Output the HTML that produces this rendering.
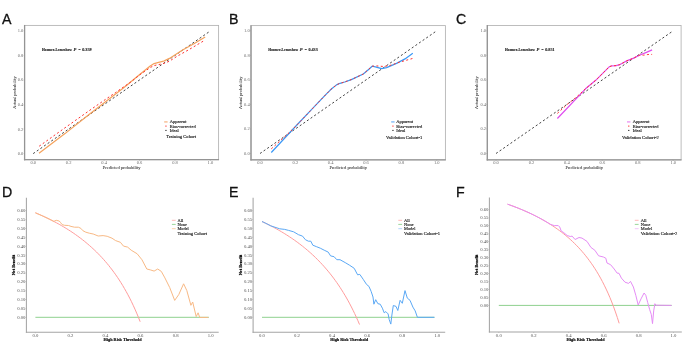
<!DOCTYPE html>
<html><head><meta charset="utf-8"><title>Calibration and decision curves</title>
<style>html,body{margin:0;padding:0;background:#fff;width:685px;height:354px;overflow:hidden}svg{display:block;will-change:transform}</style>
</head><body>
<svg width="685" height="354" viewBox="0 0 685 354">
<rect width="685" height="354" fill="#fff"/>
<rect x="24.6" y="25.4" width="194" height="134.3" fill="none" stroke="#b2b2b2" stroke-width="0.85"/>
<line x1="24.6" y1="24.95" x2="24.6" y2="160.35" stroke="#949494" stroke-width="1.3"/>
<line x1="23.95" y1="159.7" x2="219.05" y2="159.7" stroke="#949494" stroke-width="1.3"/>
<line x1="33.2" y1="159.7" x2="33.2" y2="160.7" stroke="#949494" stroke-width="0.5"/>
<line x1="23.6" y1="153.6" x2="24.6" y2="153.6" stroke="#949494" stroke-width="0.5"/>
<text x="33.2" y="162.7" font-family='"Liberation Serif", serif' font-size="4.5" font-weight="normal" fill="#6a6a6a" text-anchor="middle" dominant-baseline="central">0.0</text>
<text x="23.3" y="153.6" font-family='"Liberation Serif", serif' font-size="4.5" font-weight="normal" fill="#6a6a6a" text-anchor="end" dominant-baseline="central">0.0</text>
<line x1="68.64" y1="159.7" x2="68.64" y2="160.7" stroke="#949494" stroke-width="0.5"/>
<line x1="23.6" y1="129.06" x2="24.6" y2="129.06" stroke="#949494" stroke-width="0.5"/>
<text x="68.64" y="162.7" font-family='"Liberation Serif", serif' font-size="4.5" font-weight="normal" fill="#6a6a6a" text-anchor="middle" dominant-baseline="central">0.2</text>
<text x="23.3" y="129.06" font-family='"Liberation Serif", serif' font-size="4.5" font-weight="normal" fill="#6a6a6a" text-anchor="end" dominant-baseline="central">0.2</text>
<line x1="104.08" y1="159.7" x2="104.08" y2="160.7" stroke="#949494" stroke-width="0.5"/>
<line x1="23.6" y1="104.52" x2="24.6" y2="104.52" stroke="#949494" stroke-width="0.5"/>
<text x="104.08" y="162.7" font-family='"Liberation Serif", serif' font-size="4.5" font-weight="normal" fill="#6a6a6a" text-anchor="middle" dominant-baseline="central">0.4</text>
<text x="23.3" y="104.52" font-family='"Liberation Serif", serif' font-size="4.5" font-weight="normal" fill="#6a6a6a" text-anchor="end" dominant-baseline="central">0.4</text>
<line x1="139.52" y1="159.7" x2="139.52" y2="160.7" stroke="#949494" stroke-width="0.5"/>
<line x1="23.6" y1="79.98" x2="24.6" y2="79.98" stroke="#949494" stroke-width="0.5"/>
<text x="139.52" y="162.7" font-family='"Liberation Serif", serif' font-size="4.5" font-weight="normal" fill="#6a6a6a" text-anchor="middle" dominant-baseline="central">0.6</text>
<text x="23.3" y="79.98" font-family='"Liberation Serif", serif' font-size="4.5" font-weight="normal" fill="#6a6a6a" text-anchor="end" dominant-baseline="central">0.6</text>
<line x1="174.96" y1="159.7" x2="174.96" y2="160.7" stroke="#949494" stroke-width="0.5"/>
<line x1="23.6" y1="55.44" x2="24.6" y2="55.44" stroke="#949494" stroke-width="0.5"/>
<text x="174.96" y="162.7" font-family='"Liberation Serif", serif' font-size="4.5" font-weight="normal" fill="#6a6a6a" text-anchor="middle" dominant-baseline="central">0.8</text>
<text x="23.3" y="55.44" font-family='"Liberation Serif", serif' font-size="4.5" font-weight="normal" fill="#6a6a6a" text-anchor="end" dominant-baseline="central">0.8</text>
<line x1="210.4" y1="159.7" x2="210.4" y2="160.7" stroke="#949494" stroke-width="0.5"/>
<line x1="23.6" y1="30.9" x2="24.6" y2="30.9" stroke="#949494" stroke-width="0.5"/>
<text x="210.4" y="162.7" font-family='"Liberation Serif", serif' font-size="4.5" font-weight="normal" fill="#6a6a6a" text-anchor="middle" dominant-baseline="central">1.0</text>
<text x="23.3" y="30.9" font-family='"Liberation Serif", serif' font-size="4.5" font-weight="normal" fill="#6a6a6a" text-anchor="end" dominant-baseline="central">1.0</text>
<text x="121.6" y="167.3" font-family='"Liberation Serif", serif' font-size="4.6" font-weight="normal" fill="#2a2a2a" stroke="#2a2a2a" stroke-width="0.05" text-anchor="middle" dominant-baseline="central" textLength="37.6" lengthAdjust="spacingAndGlyphs">Predicted probability</text>
<text x="14.3" y="92.55" font-family='"Liberation Serif", serif' font-size="4.6" font-weight="normal" fill="#2a2a2a" stroke="#2a2a2a" stroke-width="0.05" text-anchor="middle" dominant-baseline="central" textLength="32.6" lengthAdjust="spacingAndGlyphs" transform="rotate(-90 14.3 92.55)">Actual probability</text>
<text x="42" y="49.5" font-family='"Liberation Serif", serif' font-size="4.6" font-weight="bold" fill="#111" stroke="#111" stroke-width="0.1" text-anchor="start" dominant-baseline="central" textLength="30" lengthAdjust="spacingAndGlyphs">Hosmer-Lemeshow</text>
<text x="73.5" y="49.5" font-family='"Liberation Serif", serif' font-size="4.6" font-weight="bold" font-style="italic" fill="#111" stroke="#111" stroke-width="0.1" text-anchor="start" dominant-baseline="central">P</text>
<text x="78.3" y="49.5" font-family='"Liberation Serif", serif' font-size="4.4" font-weight="bold" fill="#111" text-anchor="start" dominant-baseline="central">=</text>
<text x="82.2" y="49.5" font-family='"Liberation Serif", serif' font-size="4.5" font-weight="bold" fill="#111" stroke="#111" stroke-width="0.1" text-anchor="start" dominant-baseline="central" textLength="9.4" lengthAdjust="spacingAndGlyphs">0.359</text>
<path d="M33.2 153.6 L210.4 30.9" fill="none" stroke="#3a3a3a" stroke-width="0.95" stroke-dasharray="2.1 2.3" stroke-linejoin="round"/>
<path d="M39 153.2 L65 133.6 L90 113.8 L124 87.5 L140 74.2 L145.6 69.7 L150.2 66 L154.1 63.6 L158.6 62.3 L163.7 61.1 L169.4 58.4 L182.6 50 L193.9 43.8 L205.2 37" fill="none" stroke="#f5a25c" stroke-width="1.2" stroke-linejoin="round"/>
<path d="M39.2 146.2 L65 127.8 L90 110.1 L115.4 92.6 L130.7 82.1 L140 74.6 L146.8 70 L149.9 67.7 L153.8 65.7 L158.1 64.6 L162 64 L166 62.6 L169.4 61.2 L177 56.3 L188.3 50 L203.5 41" fill="none" stroke="#ff3030" stroke-width="1.0" stroke-dasharray="2 2.4" stroke-linejoin="round"/>
<line x1="164.2" y1="121.9" x2="167.6" y2="121.9" stroke="#f7c096" stroke-width="1.5"/>
<line x1="165.3" y1="126.1" x2="166.6" y2="126.1" stroke="#ff2a2a" stroke-width="1.0"/>
<line x1="165.3" y1="130.4" x2="166.6" y2="130.4" stroke="#222" stroke-width="1.0"/>
<text x="169.8" y="121.9" font-family='"Liberation Serif", serif' font-size="4.9" font-weight="normal" fill="#111" stroke="#111" stroke-width="0.12" text-anchor="start" dominant-baseline="central" textLength="16.8" lengthAdjust="spacingAndGlyphs">Apparent</text>
<text x="169.8" y="126.1" font-family='"Liberation Serif", serif' font-size="4.9" font-weight="normal" fill="#111" stroke="#111" stroke-width="0.12" text-anchor="start" dominant-baseline="central" textLength="25.8" lengthAdjust="spacingAndGlyphs">Bias-corrected</text>
<text x="169.8" y="130.4" font-family='"Liberation Serif", serif' font-size="4.9" font-weight="normal" fill="#111" stroke="#111" stroke-width="0.12" text-anchor="start" dominant-baseline="central" textLength="9" lengthAdjust="spacingAndGlyphs">Ideal</text>
<text x="166.3" y="136.8" font-family='"Liberation Serif", serif' font-size="4.9" font-weight="normal" fill="#111" stroke="#111" stroke-width="0.12" text-anchor="start" dominant-baseline="central" textLength="29.8" lengthAdjust="spacingAndGlyphs">Training Cohort</text>
<rect x="251" y="25.6" width="194.4" height="134.2" fill="none" stroke="#b2b2b2" stroke-width="0.85"/>
<line x1="251" y1="25.15" x2="251" y2="160.45" stroke="#949494" stroke-width="1.3"/>
<line x1="250.35" y1="159.8" x2="445.85" y2="159.8" stroke="#949494" stroke-width="1.3"/>
<line x1="260" y1="159.8" x2="260" y2="160.8" stroke="#949494" stroke-width="0.5"/>
<line x1="250" y1="153.5" x2="251" y2="153.5" stroke="#949494" stroke-width="0.5"/>
<text x="260" y="162.7" font-family='"Liberation Serif", serif' font-size="4.5" font-weight="normal" fill="#6a6a6a" text-anchor="middle" dominant-baseline="central">0.0</text>
<text x="249.7" y="153.5" font-family='"Liberation Serif", serif' font-size="4.5" font-weight="normal" fill="#6a6a6a" text-anchor="end" dominant-baseline="central">0.0</text>
<line x1="295.34" y1="159.8" x2="295.34" y2="160.8" stroke="#949494" stroke-width="0.5"/>
<line x1="250" y1="128.96" x2="251" y2="128.96" stroke="#949494" stroke-width="0.5"/>
<text x="295.34" y="162.7" font-family='"Liberation Serif", serif' font-size="4.5" font-weight="normal" fill="#6a6a6a" text-anchor="middle" dominant-baseline="central">0.2</text>
<text x="249.7" y="128.96" font-family='"Liberation Serif", serif' font-size="4.5" font-weight="normal" fill="#6a6a6a" text-anchor="end" dominant-baseline="central">0.2</text>
<line x1="330.68" y1="159.8" x2="330.68" y2="160.8" stroke="#949494" stroke-width="0.5"/>
<line x1="250" y1="104.42" x2="251" y2="104.42" stroke="#949494" stroke-width="0.5"/>
<text x="330.68" y="162.7" font-family='"Liberation Serif", serif' font-size="4.5" font-weight="normal" fill="#6a6a6a" text-anchor="middle" dominant-baseline="central">0.4</text>
<text x="249.7" y="104.42" font-family='"Liberation Serif", serif' font-size="4.5" font-weight="normal" fill="#6a6a6a" text-anchor="end" dominant-baseline="central">0.4</text>
<line x1="366.02" y1="159.8" x2="366.02" y2="160.8" stroke="#949494" stroke-width="0.5"/>
<line x1="250" y1="79.88" x2="251" y2="79.88" stroke="#949494" stroke-width="0.5"/>
<text x="366.02" y="162.7" font-family='"Liberation Serif", serif' font-size="4.5" font-weight="normal" fill="#6a6a6a" text-anchor="middle" dominant-baseline="central">0.6</text>
<text x="249.7" y="79.88" font-family='"Liberation Serif", serif' font-size="4.5" font-weight="normal" fill="#6a6a6a" text-anchor="end" dominant-baseline="central">0.6</text>
<line x1="401.36" y1="159.8" x2="401.36" y2="160.8" stroke="#949494" stroke-width="0.5"/>
<line x1="250" y1="55.34" x2="251" y2="55.34" stroke="#949494" stroke-width="0.5"/>
<text x="401.36" y="162.7" font-family='"Liberation Serif", serif' font-size="4.5" font-weight="normal" fill="#6a6a6a" text-anchor="middle" dominant-baseline="central">0.8</text>
<text x="249.7" y="55.34" font-family='"Liberation Serif", serif' font-size="4.5" font-weight="normal" fill="#6a6a6a" text-anchor="end" dominant-baseline="central">0.8</text>
<line x1="436.7" y1="159.8" x2="436.7" y2="160.8" stroke="#949494" stroke-width="0.5"/>
<line x1="250" y1="30.8" x2="251" y2="30.8" stroke="#949494" stroke-width="0.5"/>
<text x="436.7" y="162.7" font-family='"Liberation Serif", serif' font-size="4.5" font-weight="normal" fill="#6a6a6a" text-anchor="middle" dominant-baseline="central">1.0</text>
<text x="249.7" y="30.8" font-family='"Liberation Serif", serif' font-size="4.5" font-weight="normal" fill="#6a6a6a" text-anchor="end" dominant-baseline="central">1.0</text>
<text x="348.2" y="167.3" font-family='"Liberation Serif", serif' font-size="4.6" font-weight="normal" fill="#2a2a2a" stroke="#2a2a2a" stroke-width="0.05" text-anchor="middle" dominant-baseline="central" textLength="37.6" lengthAdjust="spacingAndGlyphs">Predicted probability</text>
<text x="240.7" y="92.7" font-family='"Liberation Serif", serif' font-size="4.6" font-weight="normal" fill="#2a2a2a" stroke="#2a2a2a" stroke-width="0.05" text-anchor="middle" dominant-baseline="central" textLength="32.6" lengthAdjust="spacingAndGlyphs" transform="rotate(-90 240.7 92.7)">Actual probability</text>
<text x="268.2" y="49.5" font-family='"Liberation Serif", serif' font-size="4.6" font-weight="bold" fill="#111" stroke="#111" stroke-width="0.1" text-anchor="start" dominant-baseline="central" textLength="30" lengthAdjust="spacingAndGlyphs">Hosmer-Lemeshow</text>
<text x="299.7" y="49.5" font-family='"Liberation Serif", serif' font-size="4.6" font-weight="bold" font-style="italic" fill="#111" stroke="#111" stroke-width="0.1" text-anchor="start" dominant-baseline="central">P</text>
<text x="304.5" y="49.5" font-family='"Liberation Serif", serif' font-size="4.4" font-weight="bold" fill="#111" text-anchor="start" dominant-baseline="central">=</text>
<text x="308.4" y="49.5" font-family='"Liberation Serif", serif' font-size="4.5" font-weight="bold" fill="#111" stroke="#111" stroke-width="0.1" text-anchor="start" dominant-baseline="central" textLength="9.4" lengthAdjust="spacingAndGlyphs">0.433</text>
<path d="M260 153.5 L436.7 30.8" fill="none" stroke="#3a3a3a" stroke-width="0.95" stroke-dasharray="2.1 2.3" stroke-linejoin="round"/>
<path d="M271.3 152.5 L295 127 L310.5 110.7 L326 94.4 L330 90.3 L332.3 88.2 L335 86.1 L337 84.6 L340 83.3 L344.7 82 L351.3 79.6 L363.3 74 L368.3 69.7 L372.2 66.2 L375.3 66.9 L381.7 68.7 L386.6 67.6 L396.5 63.4 L405 58.9 L412.8 53.3" fill="none" stroke="#3a98f6" stroke-width="1.2" stroke-linejoin="round"/>
<path d="M271.3 148.8 L286.2 135.4 L295 127 L310.5 110.7 L326 94.4 L330 90.3 L332.3 88.2 L335 86.1 L337 84.6 L340 83.3 L344.7 82 L351.3 79.6 L363.3 74 L368.3 69.7 L372.2 66.2 L376.7 65.9 L383.8 66.5 L390.9 65.2 L399.4 62.2 L412.8 58.4" fill="none" stroke="#ff3030" stroke-width="1.0" stroke-dasharray="2 2.4" stroke-linejoin="round"/>
<line x1="391.2" y1="121.9" x2="394.6" y2="121.9" stroke="#8cc0f7" stroke-width="1.5"/>
<line x1="392.3" y1="126.1" x2="393.6" y2="126.1" stroke="#ff2a2a" stroke-width="1.0"/>
<line x1="392.3" y1="130.4" x2="393.6" y2="130.4" stroke="#222" stroke-width="1.0"/>
<text x="396.3" y="121.9" font-family='"Liberation Serif", serif' font-size="4.9" font-weight="normal" fill="#111" stroke="#111" stroke-width="0.12" text-anchor="start" dominant-baseline="central" textLength="16.8" lengthAdjust="spacingAndGlyphs">Apparent</text>
<text x="396.3" y="126.1" font-family='"Liberation Serif", serif' font-size="4.9" font-weight="normal" fill="#111" stroke="#111" stroke-width="0.12" text-anchor="start" dominant-baseline="central" textLength="25.8" lengthAdjust="spacingAndGlyphs">Bias-corrected</text>
<text x="396.3" y="130.4" font-family='"Liberation Serif", serif' font-size="4.9" font-weight="normal" fill="#111" stroke="#111" stroke-width="0.12" text-anchor="start" dominant-baseline="central" textLength="9" lengthAdjust="spacingAndGlyphs">Ideal</text>
<text x="386.1" y="137.5" font-family='"Liberation Serif", serif' font-size="4.9" font-weight="normal" fill="#111" stroke="#111" stroke-width="0.12" text-anchor="start" dominant-baseline="central" textLength="36.1" lengthAdjust="spacingAndGlyphs">Validation Cohort-1</text>
<rect x="487.3" y="25.5" width="193.8" height="134.3" fill="none" stroke="#b2b2b2" stroke-width="0.85"/>
<line x1="487.3" y1="25.05" x2="487.3" y2="160.45" stroke="#949494" stroke-width="1.3"/>
<line x1="486.65" y1="159.8" x2="681.55" y2="159.8" stroke="#949494" stroke-width="1.3"/>
<line x1="496" y1="159.8" x2="496" y2="160.8" stroke="#949494" stroke-width="0.5"/>
<line x1="486.3" y1="153.5" x2="487.3" y2="153.5" stroke="#949494" stroke-width="0.5"/>
<text x="496" y="162.7" font-family='"Liberation Serif", serif' font-size="4.5" font-weight="normal" fill="#6a6a6a" text-anchor="middle" dominant-baseline="central">0.0</text>
<text x="486" y="153.5" font-family='"Liberation Serif", serif' font-size="4.5" font-weight="normal" fill="#6a6a6a" text-anchor="end" dominant-baseline="central">0.0</text>
<line x1="531.44" y1="159.8" x2="531.44" y2="160.8" stroke="#949494" stroke-width="0.5"/>
<line x1="486.3" y1="128.96" x2="487.3" y2="128.96" stroke="#949494" stroke-width="0.5"/>
<text x="531.44" y="162.7" font-family='"Liberation Serif", serif' font-size="4.5" font-weight="normal" fill="#6a6a6a" text-anchor="middle" dominant-baseline="central">0.2</text>
<text x="486" y="128.96" font-family='"Liberation Serif", serif' font-size="4.5" font-weight="normal" fill="#6a6a6a" text-anchor="end" dominant-baseline="central">0.2</text>
<line x1="566.88" y1="159.8" x2="566.88" y2="160.8" stroke="#949494" stroke-width="0.5"/>
<line x1="486.3" y1="104.42" x2="487.3" y2="104.42" stroke="#949494" stroke-width="0.5"/>
<text x="566.88" y="162.7" font-family='"Liberation Serif", serif' font-size="4.5" font-weight="normal" fill="#6a6a6a" text-anchor="middle" dominant-baseline="central">0.4</text>
<text x="486" y="104.42" font-family='"Liberation Serif", serif' font-size="4.5" font-weight="normal" fill="#6a6a6a" text-anchor="end" dominant-baseline="central">0.4</text>
<line x1="602.32" y1="159.8" x2="602.32" y2="160.8" stroke="#949494" stroke-width="0.5"/>
<line x1="486.3" y1="79.88" x2="487.3" y2="79.88" stroke="#949494" stroke-width="0.5"/>
<text x="602.32" y="162.7" font-family='"Liberation Serif", serif' font-size="4.5" font-weight="normal" fill="#6a6a6a" text-anchor="middle" dominant-baseline="central">0.6</text>
<text x="486" y="79.88" font-family='"Liberation Serif", serif' font-size="4.5" font-weight="normal" fill="#6a6a6a" text-anchor="end" dominant-baseline="central">0.6</text>
<line x1="637.76" y1="159.8" x2="637.76" y2="160.8" stroke="#949494" stroke-width="0.5"/>
<line x1="486.3" y1="55.34" x2="487.3" y2="55.34" stroke="#949494" stroke-width="0.5"/>
<text x="637.76" y="162.7" font-family='"Liberation Serif", serif' font-size="4.5" font-weight="normal" fill="#6a6a6a" text-anchor="middle" dominant-baseline="central">0.8</text>
<text x="486" y="55.34" font-family='"Liberation Serif", serif' font-size="4.5" font-weight="normal" fill="#6a6a6a" text-anchor="end" dominant-baseline="central">0.8</text>
<line x1="673.2" y1="159.8" x2="673.2" y2="160.8" stroke="#949494" stroke-width="0.5"/>
<line x1="486.3" y1="30.8" x2="487.3" y2="30.8" stroke="#949494" stroke-width="0.5"/>
<text x="673.2" y="162.7" font-family='"Liberation Serif", serif' font-size="4.5" font-weight="normal" fill="#6a6a6a" text-anchor="middle" dominant-baseline="central">1.0</text>
<text x="486" y="30.8" font-family='"Liberation Serif", serif' font-size="4.5" font-weight="normal" fill="#6a6a6a" text-anchor="end" dominant-baseline="central">1.0</text>
<text x="584.2" y="167.3" font-family='"Liberation Serif", serif' font-size="4.6" font-weight="normal" fill="#2a2a2a" stroke="#2a2a2a" stroke-width="0.05" text-anchor="middle" dominant-baseline="central" textLength="37.6" lengthAdjust="spacingAndGlyphs">Predicted probability</text>
<text x="477" y="92.65" font-family='"Liberation Serif", serif' font-size="4.6" font-weight="normal" fill="#2a2a2a" stroke="#2a2a2a" stroke-width="0.05" text-anchor="middle" dominant-baseline="central" textLength="32.6" lengthAdjust="spacingAndGlyphs" transform="rotate(-90 477 92.65)">Actual probability</text>
<text x="505" y="49.5" font-family='"Liberation Serif", serif' font-size="4.6" font-weight="bold" fill="#111" stroke="#111" stroke-width="0.1" text-anchor="start" dominant-baseline="central" textLength="30" lengthAdjust="spacingAndGlyphs">Hosmer-Lemeshow</text>
<text x="536.5" y="49.5" font-family='"Liberation Serif", serif' font-size="4.6" font-weight="bold" font-style="italic" fill="#111" stroke="#111" stroke-width="0.1" text-anchor="start" dominant-baseline="central">P</text>
<text x="541.3" y="49.5" font-family='"Liberation Serif", serif' font-size="4.4" font-weight="bold" fill="#111" text-anchor="start" dominant-baseline="central">=</text>
<text x="545.2" y="49.5" font-family='"Liberation Serif", serif' font-size="4.5" font-weight="bold" fill="#111" stroke="#111" stroke-width="0.1" text-anchor="start" dominant-baseline="central" textLength="9.4" lengthAdjust="spacingAndGlyphs">0.851</text>
<path d="M496 153.5 L673.2 30.8" fill="none" stroke="#3a3a3a" stroke-width="0.95" stroke-dasharray="2.1 2.3" stroke-linejoin="round"/>
<path d="M557.4 118.5 L585.5 88.8 L595.7 80.3 L609.2 66.8 L612 65.8 L616.1 65.6 L619.6 64.7 L626.7 60.9 L633.7 58.1 L639.4 55.2 L646.4 52.4 L652.1 49.9" fill="none" stroke="#e04cf0" stroke-width="1.2" stroke-linejoin="round"/>
<path d="M557.4 113.4 L567 104.5 L576 97.5 L585.5 88.8 L595.7 80.3 L609.2 66.8 L612 65.8 L616.1 65.6 L619.6 64.7 L626.7 60.9 L633.7 58.1 L639.4 55.2 L643.6 55.2 L647.9 54.5 L652.1 54.4" fill="none" stroke="#ff3030" stroke-width="1.0" stroke-dasharray="2 2.4" stroke-linejoin="round"/>
<line x1="627" y1="121.9" x2="630.4" y2="121.9" stroke="#eea0f5" stroke-width="1.5"/>
<line x1="628.1" y1="126.1" x2="629.4" y2="126.1" stroke="#ff2a2a" stroke-width="1.0"/>
<line x1="628.1" y1="130.4" x2="629.4" y2="130.4" stroke="#222" stroke-width="1.0"/>
<text x="632.7" y="121.9" font-family='"Liberation Serif", serif' font-size="4.9" font-weight="normal" fill="#111" stroke="#111" stroke-width="0.12" text-anchor="start" dominant-baseline="central" textLength="16.8" lengthAdjust="spacingAndGlyphs">Apparent</text>
<text x="632.7" y="126.1" font-family='"Liberation Serif", serif' font-size="4.9" font-weight="normal" fill="#111" stroke="#111" stroke-width="0.12" text-anchor="start" dominant-baseline="central" textLength="25.8" lengthAdjust="spacingAndGlyphs">Bias-corrected</text>
<text x="632.7" y="130.4" font-family='"Liberation Serif", serif' font-size="4.9" font-weight="normal" fill="#111" stroke="#111" stroke-width="0.12" text-anchor="start" dominant-baseline="central" textLength="9" lengthAdjust="spacingAndGlyphs">Ideal</text>
<text x="621.9" y="137.7" font-family='"Liberation Serif", serif' font-size="4.9" font-weight="normal" fill="#111" stroke="#111" stroke-width="0.12" text-anchor="start" dominant-baseline="central" textLength="36.9" lengthAdjust="spacingAndGlyphs">Validation Cohort-2</text>
<line x1="26.4" y1="197.8" x2="26.4" y2="332.8" stroke="#a4a4a4" stroke-width="1.05"/>
<line x1="25.9" y1="332.3" x2="218.7" y2="332.3" stroke="#a4a4a4" stroke-width="1.05"/>
<line x1="35.4" y1="332.3" x2="35.4" y2="333.3" stroke="#a4a4a4" stroke-width="0.5"/>
<text x="35.4" y="335.1" font-family='"Liberation Serif", serif' font-size="4.7" font-weight="normal" fill="#505050" text-anchor="middle" dominant-baseline="central">0.0</text>
<line x1="70.44" y1="332.3" x2="70.44" y2="333.3" stroke="#a4a4a4" stroke-width="0.5"/>
<text x="70.44" y="335.1" font-family='"Liberation Serif", serif' font-size="4.7" font-weight="normal" fill="#505050" text-anchor="middle" dominant-baseline="central">0.2</text>
<line x1="105.48" y1="332.3" x2="105.48" y2="333.3" stroke="#a4a4a4" stroke-width="0.5"/>
<text x="105.48" y="335.1" font-family='"Liberation Serif", serif' font-size="4.7" font-weight="normal" fill="#505050" text-anchor="middle" dominant-baseline="central">0.4</text>
<line x1="140.52" y1="332.3" x2="140.52" y2="333.3" stroke="#a4a4a4" stroke-width="0.5"/>
<text x="140.52" y="335.1" font-family='"Liberation Serif", serif' font-size="4.7" font-weight="normal" fill="#505050" text-anchor="middle" dominant-baseline="central">0.6</text>
<line x1="175.56" y1="332.3" x2="175.56" y2="333.3" stroke="#a4a4a4" stroke-width="0.5"/>
<text x="175.56" y="335.1" font-family='"Liberation Serif", serif' font-size="4.7" font-weight="normal" fill="#505050" text-anchor="middle" dominant-baseline="central">0.8</text>
<line x1="210.6" y1="332.3" x2="210.6" y2="333.3" stroke="#a4a4a4" stroke-width="0.5"/>
<text x="210.6" y="335.1" font-family='"Liberation Serif", serif' font-size="4.7" font-weight="normal" fill="#505050" text-anchor="middle" dominant-baseline="central">1.0</text>
<line x1="25.4" y1="317.3" x2="26.4" y2="317.3" stroke="#a4a4a4" stroke-width="0.5"/>
<text x="25.4" y="317.3" font-family='"Liberation Serif", serif' font-size="4.7" font-weight="normal" fill="#505050" text-anchor="end" dominant-baseline="central">0.00</text>
<line x1="25.4" y1="308.42" x2="26.4" y2="308.42" stroke="#a4a4a4" stroke-width="0.5"/>
<text x="25.4" y="308.42" font-family='"Liberation Serif", serif' font-size="4.7" font-weight="normal" fill="#505050" text-anchor="end" dominant-baseline="central">0.05</text>
<line x1="25.4" y1="299.53" x2="26.4" y2="299.53" stroke="#a4a4a4" stroke-width="0.5"/>
<text x="25.4" y="299.53" font-family='"Liberation Serif", serif' font-size="4.7" font-weight="normal" fill="#505050" text-anchor="end" dominant-baseline="central">0.10</text>
<line x1="25.4" y1="290.64" x2="26.4" y2="290.64" stroke="#a4a4a4" stroke-width="0.5"/>
<text x="25.4" y="290.64" font-family='"Liberation Serif", serif' font-size="4.7" font-weight="normal" fill="#505050" text-anchor="end" dominant-baseline="central">0.15</text>
<line x1="25.4" y1="281.76" x2="26.4" y2="281.76" stroke="#a4a4a4" stroke-width="0.5"/>
<text x="25.4" y="281.76" font-family='"Liberation Serif", serif' font-size="4.7" font-weight="normal" fill="#505050" text-anchor="end" dominant-baseline="central">0.20</text>
<line x1="25.4" y1="272.88" x2="26.4" y2="272.88" stroke="#a4a4a4" stroke-width="0.5"/>
<text x="25.4" y="272.88" font-family='"Liberation Serif", serif' font-size="4.7" font-weight="normal" fill="#505050" text-anchor="end" dominant-baseline="central">0.25</text>
<line x1="25.4" y1="263.99" x2="26.4" y2="263.99" stroke="#a4a4a4" stroke-width="0.5"/>
<text x="25.4" y="263.99" font-family='"Liberation Serif", serif' font-size="4.7" font-weight="normal" fill="#505050" text-anchor="end" dominant-baseline="central">0.30</text>
<line x1="25.4" y1="255.11" x2="26.4" y2="255.11" stroke="#a4a4a4" stroke-width="0.5"/>
<text x="25.4" y="255.11" font-family='"Liberation Serif", serif' font-size="4.7" font-weight="normal" fill="#505050" text-anchor="end" dominant-baseline="central">0.35</text>
<line x1="25.4" y1="246.22" x2="26.4" y2="246.22" stroke="#a4a4a4" stroke-width="0.5"/>
<text x="25.4" y="246.22" font-family='"Liberation Serif", serif' font-size="4.7" font-weight="normal" fill="#505050" text-anchor="end" dominant-baseline="central">0.40</text>
<line x1="25.4" y1="237.34" x2="26.4" y2="237.34" stroke="#a4a4a4" stroke-width="0.5"/>
<text x="25.4" y="237.34" font-family='"Liberation Serif", serif' font-size="4.7" font-weight="normal" fill="#505050" text-anchor="end" dominant-baseline="central">0.45</text>
<line x1="25.4" y1="228.45" x2="26.4" y2="228.45" stroke="#a4a4a4" stroke-width="0.5"/>
<text x="25.4" y="228.45" font-family='"Liberation Serif", serif' font-size="4.7" font-weight="normal" fill="#505050" text-anchor="end" dominant-baseline="central">0.50</text>
<line x1="25.4" y1="219.56" x2="26.4" y2="219.56" stroke="#a4a4a4" stroke-width="0.5"/>
<text x="25.4" y="219.56" font-family='"Liberation Serif", serif' font-size="4.7" font-weight="normal" fill="#505050" text-anchor="end" dominant-baseline="central">0.55</text>
<line x1="25.4" y1="210.68" x2="26.4" y2="210.68" stroke="#a4a4a4" stroke-width="0.5"/>
<text x="25.4" y="210.68" font-family='"Liberation Serif", serif' font-size="4.7" font-weight="normal" fill="#505050" text-anchor="end" dominant-baseline="central">0.60</text>
<text x="122.55" y="339.8" font-family='"Liberation Serif", serif' font-size="4.4" font-weight="bold" fill="#000" stroke="#000" stroke-width="0.14" text-anchor="middle" dominant-baseline="central" textLength="38" lengthAdjust="spacingAndGlyphs">High Risk Threshold</text>
<text x="13.7" y="265.05" font-family='"Liberation Serif", serif' font-size="4.5" font-weight="bold" fill="#000" stroke="#000" stroke-width="0.16" text-anchor="middle" dominant-baseline="central" textLength="20.5" lengthAdjust="spacingAndGlyphs" transform="rotate(-90 13.7 265.05)">Net Benefit</text>
<path d="M35.4 317.3 L208.85 317.3" fill="none" stroke="#8fd18f" stroke-width="1.0" stroke-linejoin="round"/>
<path d="M35.4 212.81 L37.15 213.55 L38.89 214.3 L40.64 215.07 L42.38 215.85 L44.13 216.65 L45.88 217.47 L47.62 218.3 L49.37 219.16 L51.12 220.03 L52.86 220.92 L54.61 221.83 L56.35 222.76 L58.1 223.71 L59.85 224.68 L61.59 225.68 L63.34 226.7 L65.08 227.75 L66.83 228.82 L68.58 229.92 L70.32 231.04 L72.07 232.19 L73.82 233.37 L75.56 234.59 L77.31 235.83 L79.05 237.11 L80.8 238.42 L82.55 239.77 L84.29 241.15 L86.04 242.58 L87.78 244.04 L89.53 245.55 L91.28 247.1 L93.02 248.69 L94.77 250.34 L96.52 252.03 L98.26 253.78 L100.01 255.58 L101.75 257.44 L103.5 259.37 L105.25 261.35 L106.99 263.4 L108.74 265.52 L110.48 267.72 L112.23 269.99 L113.98 272.35 L115.72 274.79 L117.47 277.33 L119.22 279.96 L120.96 282.7 L122.71 285.54 L124.45 288.5 L126.2 291.58 L127.95 294.79 L129.69 298.14 L131.44 301.63 L133.18 305.29 L134.93 309.11 L136.68 313.12 L138.42 317.31 L140.17 321.72" fill="none" stroke="#ff9c9c" stroke-width="1.0" stroke-linejoin="round"/>
<path d="M35.4 212.81 L37.7 213.79 L40 214.79 L42.3 215.81 L44.6 216.87 L46.9 217.95 L49.2 219.07 L51.5 220.22 L53.8 221.4 L56.2 220.3 L59.2 221 L60.6 222.6 L62.1 224.6 L64.6 225.3 L68.5 225.5 L71 226.4 L74.5 227.2 L78.4 227.2 L80.9 228.4 L82.9 230.7 L85.8 232.2 L89.3 233.2 L93.2 234 L98.2 236 L103.1 235.6 L107.2 236.3 L112 238.2 L115.6 240.6 L120.4 242.3 L123.5 246.1 L127.6 247.1 L131.2 250.2 L137.2 253.8 L142 259.8 L146.8 269 L150.4 269.9 L154.1 271.1 L157.7 269 L161.3 271.4 L164.9 277.9 L169.7 287.5 L174.7 300.4 L178.8 294.5 L183.6 283.8 L186.8 290.5 L190.9 305.3 L192.7 302 L196.2 316.6 L198.1 312.8 L199.7 317.4 L208.3 317.4" fill="none" stroke="#f8b985" stroke-width="1.0" stroke-linejoin="round"/>
<line x1="171.9" y1="220.3" x2="175.7" y2="220.3" stroke="#ffb0b0" stroke-width="0.9"/>
<line x1="171.9" y1="224.4" x2="175.7" y2="224.4" stroke="#8fd18f" stroke-width="0.9"/>
<line x1="171.9" y1="228.7" x2="175.7" y2="228.7" stroke="#fcc9a0" stroke-width="0.9"/>
<text x="177.4" y="220.3" font-family='"Liberation Serif", serif' font-size="4.9" font-weight="normal" fill="#111" stroke="#111" stroke-width="0.12" text-anchor="start" dominant-baseline="central" textLength="5.8" lengthAdjust="spacingAndGlyphs">All</text>
<text x="177.4" y="224.4" font-family='"Liberation Serif", serif' font-size="4.9" font-weight="normal" fill="#111" stroke="#111" stroke-width="0.12" text-anchor="start" dominant-baseline="central" textLength="9.6" lengthAdjust="spacingAndGlyphs">None</text>
<text x="177.4" y="228.7" font-family='"Liberation Serif", serif' font-size="4.9" font-weight="normal" fill="#111" stroke="#111" stroke-width="0.12" text-anchor="start" dominant-baseline="central" textLength="11.4" lengthAdjust="spacingAndGlyphs">Model</text>
<text x="177.4" y="233.9" font-family='"Liberation Serif", serif' font-size="4.9" font-weight="normal" fill="#111" stroke="#111" stroke-width="0.12" text-anchor="start" dominant-baseline="central" textLength="29.6" lengthAdjust="spacingAndGlyphs">Training Cohort</text>
<line x1="253.1" y1="197.8" x2="253.1" y2="332.7" stroke="#a4a4a4" stroke-width="1.05"/>
<line x1="252.6" y1="332.2" x2="445.2" y2="332.2" stroke="#a4a4a4" stroke-width="1.05"/>
<line x1="262" y1="332.2" x2="262" y2="333.2" stroke="#a4a4a4" stroke-width="0.5"/>
<text x="262" y="335.1" font-family='"Liberation Serif", serif' font-size="4.7" font-weight="normal" fill="#505050" text-anchor="middle" dominant-baseline="central">0.0</text>
<line x1="297.02" y1="332.2" x2="297.02" y2="333.2" stroke="#a4a4a4" stroke-width="0.5"/>
<text x="297.02" y="335.1" font-family='"Liberation Serif", serif' font-size="4.7" font-weight="normal" fill="#505050" text-anchor="middle" dominant-baseline="central">0.2</text>
<line x1="332.04" y1="332.2" x2="332.04" y2="333.2" stroke="#a4a4a4" stroke-width="0.5"/>
<text x="332.04" y="335.1" font-family='"Liberation Serif", serif' font-size="4.7" font-weight="normal" fill="#505050" text-anchor="middle" dominant-baseline="central">0.4</text>
<line x1="367.06" y1="332.2" x2="367.06" y2="333.2" stroke="#a4a4a4" stroke-width="0.5"/>
<text x="367.06" y="335.1" font-family='"Liberation Serif", serif' font-size="4.7" font-weight="normal" fill="#505050" text-anchor="middle" dominant-baseline="central">0.6</text>
<line x1="402.08" y1="332.2" x2="402.08" y2="333.2" stroke="#a4a4a4" stroke-width="0.5"/>
<text x="402.08" y="335.1" font-family='"Liberation Serif", serif' font-size="4.7" font-weight="normal" fill="#505050" text-anchor="middle" dominant-baseline="central">0.8</text>
<line x1="437.1" y1="332.2" x2="437.1" y2="333.2" stroke="#a4a4a4" stroke-width="0.5"/>
<text x="437.1" y="335.1" font-family='"Liberation Serif", serif' font-size="4.7" font-weight="normal" fill="#505050" text-anchor="middle" dominant-baseline="central">1.0</text>
<line x1="252.1" y1="317.3" x2="253.1" y2="317.3" stroke="#a4a4a4" stroke-width="0.5"/>
<text x="252.1" y="317.3" font-family='"Liberation Serif", serif' font-size="4.7" font-weight="normal" fill="#505050" text-anchor="end" dominant-baseline="central">0.00</text>
<line x1="252.1" y1="308.42" x2="253.1" y2="308.42" stroke="#a4a4a4" stroke-width="0.5"/>
<text x="252.1" y="308.42" font-family='"Liberation Serif", serif' font-size="4.7" font-weight="normal" fill="#505050" text-anchor="end" dominant-baseline="central">0.05</text>
<line x1="252.1" y1="299.53" x2="253.1" y2="299.53" stroke="#a4a4a4" stroke-width="0.5"/>
<text x="252.1" y="299.53" font-family='"Liberation Serif", serif' font-size="4.7" font-weight="normal" fill="#505050" text-anchor="end" dominant-baseline="central">0.10</text>
<line x1="252.1" y1="290.64" x2="253.1" y2="290.64" stroke="#a4a4a4" stroke-width="0.5"/>
<text x="252.1" y="290.64" font-family='"Liberation Serif", serif' font-size="4.7" font-weight="normal" fill="#505050" text-anchor="end" dominant-baseline="central">0.15</text>
<line x1="252.1" y1="281.76" x2="253.1" y2="281.76" stroke="#a4a4a4" stroke-width="0.5"/>
<text x="252.1" y="281.76" font-family='"Liberation Serif", serif' font-size="4.7" font-weight="normal" fill="#505050" text-anchor="end" dominant-baseline="central">0.20</text>
<line x1="252.1" y1="272.88" x2="253.1" y2="272.88" stroke="#a4a4a4" stroke-width="0.5"/>
<text x="252.1" y="272.88" font-family='"Liberation Serif", serif' font-size="4.7" font-weight="normal" fill="#505050" text-anchor="end" dominant-baseline="central">0.25</text>
<line x1="252.1" y1="263.99" x2="253.1" y2="263.99" stroke="#a4a4a4" stroke-width="0.5"/>
<text x="252.1" y="263.99" font-family='"Liberation Serif", serif' font-size="4.7" font-weight="normal" fill="#505050" text-anchor="end" dominant-baseline="central">0.30</text>
<line x1="252.1" y1="255.11" x2="253.1" y2="255.11" stroke="#a4a4a4" stroke-width="0.5"/>
<text x="252.1" y="255.11" font-family='"Liberation Serif", serif' font-size="4.7" font-weight="normal" fill="#505050" text-anchor="end" dominant-baseline="central">0.35</text>
<line x1="252.1" y1="246.22" x2="253.1" y2="246.22" stroke="#a4a4a4" stroke-width="0.5"/>
<text x="252.1" y="246.22" font-family='"Liberation Serif", serif' font-size="4.7" font-weight="normal" fill="#505050" text-anchor="end" dominant-baseline="central">0.40</text>
<line x1="252.1" y1="237.34" x2="253.1" y2="237.34" stroke="#a4a4a4" stroke-width="0.5"/>
<text x="252.1" y="237.34" font-family='"Liberation Serif", serif' font-size="4.7" font-weight="normal" fill="#505050" text-anchor="end" dominant-baseline="central">0.45</text>
<line x1="252.1" y1="228.45" x2="253.1" y2="228.45" stroke="#a4a4a4" stroke-width="0.5"/>
<text x="252.1" y="228.45" font-family='"Liberation Serif", serif' font-size="4.7" font-weight="normal" fill="#505050" text-anchor="end" dominant-baseline="central">0.50</text>
<line x1="252.1" y1="219.56" x2="253.1" y2="219.56" stroke="#a4a4a4" stroke-width="0.5"/>
<text x="252.1" y="219.56" font-family='"Liberation Serif", serif' font-size="4.7" font-weight="normal" fill="#505050" text-anchor="end" dominant-baseline="central">0.55</text>
<line x1="252.1" y1="210.68" x2="253.1" y2="210.68" stroke="#a4a4a4" stroke-width="0.5"/>
<text x="252.1" y="210.68" font-family='"Liberation Serif", serif' font-size="4.7" font-weight="normal" fill="#505050" text-anchor="end" dominant-baseline="central">0.60</text>
<text x="349.15" y="339.8" font-family='"Liberation Serif", serif' font-size="4.4" font-weight="bold" fill="#000" stroke="#000" stroke-width="0.14" text-anchor="middle" dominant-baseline="central" textLength="38" lengthAdjust="spacingAndGlyphs">High Risk Threshold</text>
<text x="240.4" y="265" font-family='"Liberation Serif", serif' font-size="4.5" font-weight="bold" fill="#000" stroke="#000" stroke-width="0.16" text-anchor="middle" dominant-baseline="central" textLength="20.5" lengthAdjust="spacingAndGlyphs" transform="rotate(-90 240.4 265)">Net Benefit</text>
<path d="M262 317.3 L434.47 317.3" fill="none" stroke="#8fd18f" stroke-width="1.0" stroke-linejoin="round"/>
<path d="M262 221.52 L263.63 222.29 L265.25 223.07 L266.88 223.87 L268.5 224.68 L270.13 225.51 L271.75 226.35 L273.38 227.21 L275 228.09 L276.63 228.99 L278.26 229.9 L279.88 230.84 L281.51 231.79 L283.13 232.76 L284.76 233.76 L286.38 234.77 L288.01 235.81 L289.63 236.87 L291.26 237.95 L292.88 239.06 L294.51 240.2 L296.14 241.36 L297.76 242.54 L299.39 243.76 L301.01 245 L302.64 246.28 L304.26 247.58 L305.89 248.92 L307.51 250.29 L309.14 251.7 L310.77 253.14 L312.39 254.62 L314.02 256.14 L315.64 257.7 L317.27 259.3 L318.89 260.95 L320.52 262.64 L322.14 264.38 L323.77 266.17 L325.39 268.01 L327.02 269.91 L328.65 271.86 L330.27 273.87 L331.9 275.95 L333.52 278.09 L335.15 280.3 L336.77 282.57 L338.4 284.93 L340.02 287.36 L341.65 289.88 L343.28 292.48 L344.9 295.18 L346.53 297.97 L348.15 300.86 L349.78 303.87 L351.4 306.98 L353.03 310.22 L354.65 313.58 L356.28 317.08 L357.91 320.72 L359.53 324.52" fill="none" stroke="#ff9c9c" stroke-width="1.0" stroke-linejoin="round"/>
<path d="M262 221.52 L263.75 222.35 L265.5 223.19 L267.25 224.05 L269 224.93 L270.75 225.83 L279.7 228.8 L284.7 229.4 L288.6 230.4 L293.6 231.8 L298.5 234.7 L302.5 236.1 L305.4 239.7 L308.4 241.2 L310.8 241.2 L312.8 245.2 L316.3 246.6 L320.3 248.2 L324.2 250.2 L328.2 252.1 L330.6 255.9 L334.1 256.7 L336.8 259.7 L340 259.7 L345.2 262.6 L349.7 265.3 L354.2 268.3 L357.6 274.8 L359.8 274.4 L363.2 279.3 L366.6 284.5 L368.9 286.3 L371.1 291.3 L373 297 L373.9 304.2 L375.7 299.7 L377.9 303.7 L380.2 304.2 L382.4 308.2 L384.2 312.8 L385.8 311.6 L388.1 313.9 L389.2 319.5 L390.8 324.1 L391.9 315 L393.3 305.5 L396 306.4 L397.8 310.5 L400.1 300.3 L402.3 303.3 L405 290.6 L407.3 298.1 L410 300.3 L412.9 307.1 L415.2 310.9 L417.4 317.3 L434.4 317.3" fill="none" stroke="#5aa8f5" stroke-width="1.0" stroke-linejoin="round"/>
<line x1="398.3" y1="220.3" x2="402.1" y2="220.3" stroke="#ffb0b0" stroke-width="0.9"/>
<line x1="398.3" y1="224.4" x2="402.1" y2="224.4" stroke="#8fd18f" stroke-width="0.9"/>
<line x1="398.3" y1="228.7" x2="402.1" y2="228.7" stroke="#a8d0fa" stroke-width="0.9"/>
<text x="404" y="220.3" font-family='"Liberation Serif", serif' font-size="4.9" font-weight="normal" fill="#111" stroke="#111" stroke-width="0.12" text-anchor="start" dominant-baseline="central" textLength="5.8" lengthAdjust="spacingAndGlyphs">All</text>
<text x="404" y="224.4" font-family='"Liberation Serif", serif' font-size="4.9" font-weight="normal" fill="#111" stroke="#111" stroke-width="0.12" text-anchor="start" dominant-baseline="central" textLength="9.6" lengthAdjust="spacingAndGlyphs">None</text>
<text x="404" y="228.7" font-family='"Liberation Serif", serif' font-size="4.9" font-weight="normal" fill="#111" stroke="#111" stroke-width="0.12" text-anchor="start" dominant-baseline="central" textLength="11.4" lengthAdjust="spacingAndGlyphs">Model</text>
<text x="404" y="233.9" font-family='"Liberation Serif", serif' font-size="4.9" font-weight="normal" fill="#111" stroke="#111" stroke-width="0.12" text-anchor="start" dominant-baseline="central" textLength="36" lengthAdjust="spacingAndGlyphs">Validation Cohort-1</text>
<line x1="489.4" y1="197.6" x2="489.4" y2="332.5" stroke="#a4a4a4" stroke-width="1.05"/>
<line x1="488.9" y1="332" x2="681.8" y2="332" stroke="#a4a4a4" stroke-width="1.05"/>
<line x1="498.8" y1="332" x2="498.8" y2="333" stroke="#a4a4a4" stroke-width="0.5"/>
<text x="498.8" y="335.1" font-family='"Liberation Serif", serif' font-size="4.7" font-weight="normal" fill="#505050" text-anchor="middle" dominant-baseline="central">0.0</text>
<line x1="533.74" y1="332" x2="533.74" y2="333" stroke="#a4a4a4" stroke-width="0.5"/>
<text x="533.74" y="335.1" font-family='"Liberation Serif", serif' font-size="4.7" font-weight="normal" fill="#505050" text-anchor="middle" dominant-baseline="central">0.2</text>
<line x1="568.68" y1="332" x2="568.68" y2="333" stroke="#a4a4a4" stroke-width="0.5"/>
<text x="568.68" y="335.1" font-family='"Liberation Serif", serif' font-size="4.7" font-weight="normal" fill="#505050" text-anchor="middle" dominant-baseline="central">0.4</text>
<line x1="603.62" y1="332" x2="603.62" y2="333" stroke="#a4a4a4" stroke-width="0.5"/>
<text x="603.62" y="335.1" font-family='"Liberation Serif", serif' font-size="4.7" font-weight="normal" fill="#505050" text-anchor="middle" dominant-baseline="central">0.6</text>
<line x1="638.56" y1="332" x2="638.56" y2="333" stroke="#a4a4a4" stroke-width="0.5"/>
<text x="638.56" y="335.1" font-family='"Liberation Serif", serif' font-size="4.7" font-weight="normal" fill="#505050" text-anchor="middle" dominant-baseline="central">0.8</text>
<line x1="673.5" y1="332" x2="673.5" y2="333" stroke="#a4a4a4" stroke-width="0.5"/>
<text x="673.5" y="335.1" font-family='"Liberation Serif", serif' font-size="4.7" font-weight="normal" fill="#505050" text-anchor="middle" dominant-baseline="central">1.0</text>
<line x1="488.4" y1="305.4" x2="489.4" y2="305.4" stroke="#a4a4a4" stroke-width="0.5"/>
<text x="488.4" y="305.4" font-family='"Liberation Serif", serif' font-size="4.7" font-weight="normal" fill="#505050" text-anchor="end" dominant-baseline="central">0.00</text>
<line x1="488.4" y1="297.44" x2="489.4" y2="297.44" stroke="#a4a4a4" stroke-width="0.5"/>
<text x="488.4" y="297.44" font-family='"Liberation Serif", serif' font-size="4.7" font-weight="normal" fill="#505050" text-anchor="end" dominant-baseline="central">0.05</text>
<line x1="488.4" y1="289.48" x2="489.4" y2="289.48" stroke="#a4a4a4" stroke-width="0.5"/>
<text x="488.4" y="289.48" font-family='"Liberation Serif", serif' font-size="4.7" font-weight="normal" fill="#505050" text-anchor="end" dominant-baseline="central">0.10</text>
<line x1="488.4" y1="281.52" x2="489.4" y2="281.52" stroke="#a4a4a4" stroke-width="0.5"/>
<text x="488.4" y="281.52" font-family='"Liberation Serif", serif' font-size="4.7" font-weight="normal" fill="#505050" text-anchor="end" dominant-baseline="central">0.15</text>
<line x1="488.4" y1="273.56" x2="489.4" y2="273.56" stroke="#a4a4a4" stroke-width="0.5"/>
<text x="488.4" y="273.56" font-family='"Liberation Serif", serif' font-size="4.7" font-weight="normal" fill="#505050" text-anchor="end" dominant-baseline="central">0.20</text>
<line x1="488.4" y1="265.6" x2="489.4" y2="265.6" stroke="#a4a4a4" stroke-width="0.5"/>
<text x="488.4" y="265.6" font-family='"Liberation Serif", serif' font-size="4.7" font-weight="normal" fill="#505050" text-anchor="end" dominant-baseline="central">0.25</text>
<line x1="488.4" y1="257.64" x2="489.4" y2="257.64" stroke="#a4a4a4" stroke-width="0.5"/>
<text x="488.4" y="257.64" font-family='"Liberation Serif", serif' font-size="4.7" font-weight="normal" fill="#505050" text-anchor="end" dominant-baseline="central">0.30</text>
<line x1="488.4" y1="249.68" x2="489.4" y2="249.68" stroke="#a4a4a4" stroke-width="0.5"/>
<text x="488.4" y="249.68" font-family='"Liberation Serif", serif' font-size="4.7" font-weight="normal" fill="#505050" text-anchor="end" dominant-baseline="central">0.35</text>
<line x1="488.4" y1="241.72" x2="489.4" y2="241.72" stroke="#a4a4a4" stroke-width="0.5"/>
<text x="488.4" y="241.72" font-family='"Liberation Serif", serif' font-size="4.7" font-weight="normal" fill="#505050" text-anchor="end" dominant-baseline="central">0.40</text>
<line x1="488.4" y1="233.76" x2="489.4" y2="233.76" stroke="#a4a4a4" stroke-width="0.5"/>
<text x="488.4" y="233.76" font-family='"Liberation Serif", serif' font-size="4.7" font-weight="normal" fill="#505050" text-anchor="end" dominant-baseline="central">0.45</text>
<line x1="488.4" y1="225.8" x2="489.4" y2="225.8" stroke="#a4a4a4" stroke-width="0.5"/>
<text x="488.4" y="225.8" font-family='"Liberation Serif", serif' font-size="4.7" font-weight="normal" fill="#505050" text-anchor="end" dominant-baseline="central">0.50</text>
<line x1="488.4" y1="217.84" x2="489.4" y2="217.84" stroke="#a4a4a4" stroke-width="0.5"/>
<text x="488.4" y="217.84" font-family='"Liberation Serif", serif' font-size="4.7" font-weight="normal" fill="#505050" text-anchor="end" dominant-baseline="central">0.55</text>
<line x1="488.4" y1="209.88" x2="489.4" y2="209.88" stroke="#a4a4a4" stroke-width="0.5"/>
<text x="488.4" y="209.88" font-family='"Liberation Serif", serif' font-size="4.7" font-weight="normal" fill="#505050" text-anchor="end" dominant-baseline="central">0.60</text>
<text x="585.6" y="339.8" font-family='"Liberation Serif", serif' font-size="4.4" font-weight="bold" fill="#000" stroke="#000" stroke-width="0.14" text-anchor="middle" dominant-baseline="central" textLength="38" lengthAdjust="spacingAndGlyphs">High Risk Threshold</text>
<text x="476.7" y="264.8" font-family='"Liberation Serif", serif' font-size="4.5" font-weight="bold" fill="#000" stroke="#000" stroke-width="0.16" text-anchor="middle" dominant-baseline="central" textLength="20.5" lengthAdjust="spacingAndGlyphs" transform="rotate(-90 476.7 264.8)">Net Benefit</text>
<path d="M498.8 305.4 L671.75 305.4" fill="none" stroke="#8fd18f" stroke-width="1.0" stroke-linejoin="round"/>
<path d="M507.54 204.18 L509.4 204.84 L511.26 205.51 L513.12 206.2 L514.98 206.9 L516.84 207.63 L518.7 208.36 L520.56 209.12 L522.42 209.89 L524.28 210.69 L526.14 211.5 L528 212.34 L529.86 213.19 L531.72 214.07 L533.58 214.98 L535.44 215.9 L537.3 216.86 L539.16 217.83 L541.02 218.84 L542.89 219.88 L544.75 220.94 L546.61 222.04 L548.47 223.16 L550.33 224.33 L552.19 225.52 L554.05 226.76 L555.91 228.04 L557.77 229.35 L559.63 230.71 L561.49 232.11 L563.35 233.56 L565.21 235.07 L567.07 236.62 L568.93 238.23 L570.79 239.89 L572.65 241.62 L574.51 243.42 L576.38 245.28 L578.24 247.21 L580.1 249.23 L581.96 251.32 L583.82 253.5 L585.68 255.77 L587.54 258.15 L589.4 260.62 L591.26 263.21 L593.12 265.92 L594.98 268.76 L596.84 271.73 L598.7 274.85 L600.56 278.14 L602.42 281.59 L604.28 285.23 L606.14 289.07 L608 293.13 L609.87 297.42 L611.73 301.98 L613.59 306.82 L615.45 311.96 L617.31 317.45 L619.17 323.32" fill="none" stroke="#ff9c9c" stroke-width="1.0" stroke-linejoin="round"/>
<path d="M507.54 204.18 L509.68 204.94 L511.82 205.72 L513.96 206.52 L516.1 207.34 L518.24 208.18 L520.38 209.04 L522.52 209.94 L524.66 210.85 L526.8 211.79 L528.94 212.77 L531.08 213.77 L533.22 214.8 L535.36 215.86 L537.5 216.96 L539.64 218.09 L541.78 219.25 L543.92 220.46 L546.06 221.71 L548.2 223 L550.34 224.33 L554.3 225.6 L558.3 225.6 L559.7 227 L561.3 231.2 L563.2 232.2 L567.2 235.5 L570.2 236.5 L572.1 236.1 L575.1 239.5 L579 237.5 L582 238.1 L587 241.4 L590.9 247.4 L594.9 250.3 L598.6 255.8 L603.4 257 L605.8 258.2 L607 263 L610.6 264.7 L614.2 269 L617.1 273.1 L619 273.3 L621.4 278.1 L625 282.2 L628.6 283.4 L630.5 281.4 L633.4 287 L635.8 295.3 L638.2 305 L641 298.9 L644.1 293 L645.8 295.3 L647.7 302.5 L649.7 309.7 L651.3 314.5 L652.5 323.6 L653.7 310.9 L654.9 303.7 L656.1 305.2 L671.5 305.4" fill="none" stroke="#e58cf5" stroke-width="1.0" stroke-linejoin="round"/>
<line x1="634.8" y1="220.3" x2="638.6" y2="220.3" stroke="#ffb0b0" stroke-width="0.9"/>
<line x1="634.8" y1="224.4" x2="638.6" y2="224.4" stroke="#8fd18f" stroke-width="0.9"/>
<line x1="634.8" y1="228.7" x2="638.6" y2="228.7" stroke="#f0c0fa" stroke-width="0.9"/>
<text x="640.8" y="220.3" font-family='"Liberation Serif", serif' font-size="4.9" font-weight="normal" fill="#111" stroke="#111" stroke-width="0.12" text-anchor="start" dominant-baseline="central" textLength="5.8" lengthAdjust="spacingAndGlyphs">All</text>
<text x="640.8" y="224.4" font-family='"Liberation Serif", serif' font-size="4.9" font-weight="normal" fill="#111" stroke="#111" stroke-width="0.12" text-anchor="start" dominant-baseline="central" textLength="9.6" lengthAdjust="spacingAndGlyphs">None</text>
<text x="640.8" y="228.7" font-family='"Liberation Serif", serif' font-size="4.9" font-weight="normal" fill="#111" stroke="#111" stroke-width="0.12" text-anchor="start" dominant-baseline="central" textLength="11.4" lengthAdjust="spacingAndGlyphs">Model</text>
<text x="640.8" y="233.9" font-family='"Liberation Serif", serif' font-size="4.9" font-weight="normal" fill="#111" stroke="#111" stroke-width="0.12" text-anchor="start" dominant-baseline="central" textLength="36.5" lengthAdjust="spacingAndGlyphs">Validation Cohort-2</text>
<text x="1.9" y="23.7" font-family='"Liberation Sans", sans-serif' font-size="14.2" fill="#111" stroke="#111" stroke-width="0.3">A</text>
<text x="228.9" y="23.8" font-family='"Liberation Sans", sans-serif' font-size="14.2" fill="#111" stroke="#111" stroke-width="0.3">B</text>
<text x="455.9" y="23.8" font-family='"Liberation Sans", sans-serif' font-size="14.2" fill="#111" stroke="#111" stroke-width="0.3">C</text>
<text x="1.9" y="196.7" font-family='"Liberation Sans", sans-serif' font-size="14.2" fill="#111" stroke="#111" stroke-width="0.3">D</text>
<text x="228.9" y="196.7" font-family='"Liberation Sans", sans-serif' font-size="14.2" fill="#111" stroke="#111" stroke-width="0.3">E</text>
<text x="456" y="196.5" font-family='"Liberation Sans", sans-serif' font-size="14.2" fill="#111" stroke="#111" stroke-width="0.3">F</text>
</svg>
</body></html>
